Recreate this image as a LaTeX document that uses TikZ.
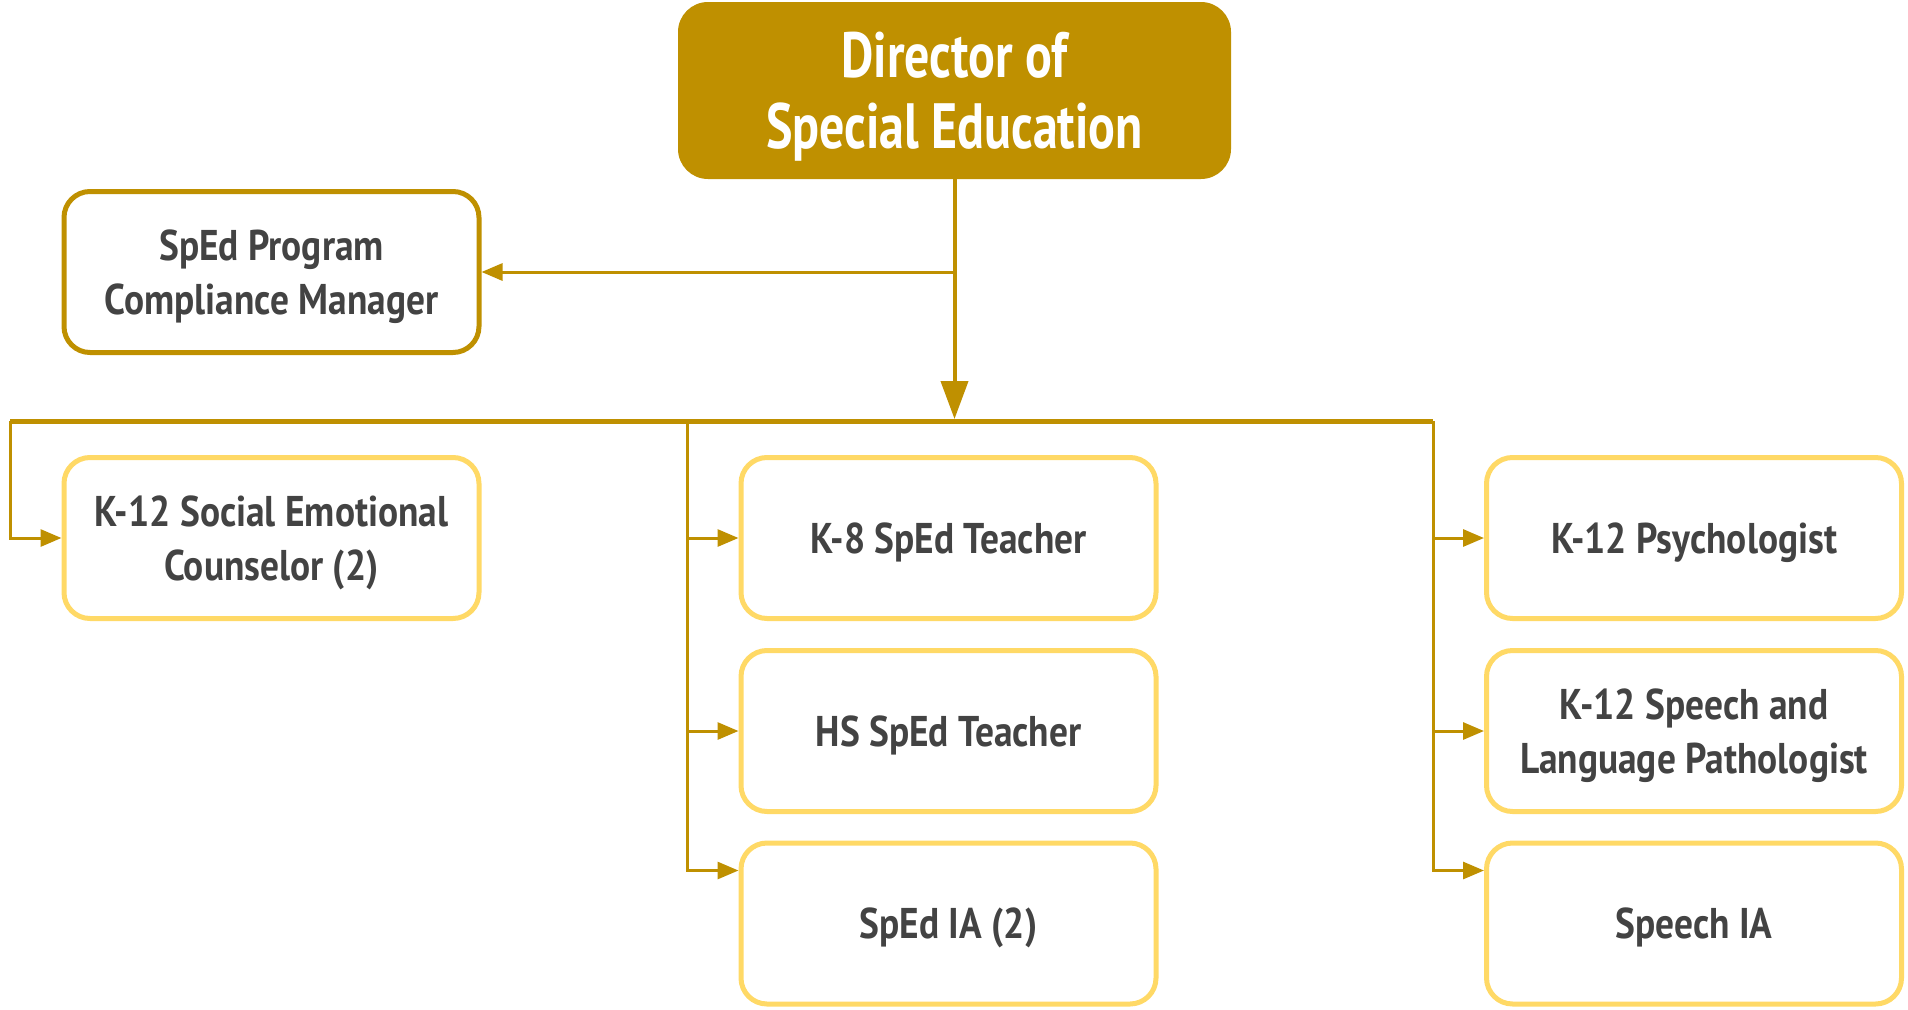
\documentclass[tikz,border=0pt]{standalone}
\usepackage{fontspec}
\setmainfont{PT Sans}
\newfontfamily\rolefont{PT Sans}[FakeStretch=0.87]
\newfontfamily\headfont{PT Sans}[FakeStretch=0.78]
\usepackage{tikz}
\usetikzlibrary{arrows.meta}
\definecolor{gold}{HTML}{BF9000}
\definecolor{paleyellow}{HTML}{FFD966}
\definecolor{inkgray}{HTML}{434343}

\begin{document}
\begin{tikzpicture}[x=1pt,y=-1pt,
  rolebox/.style={draw=paleyellow, line width=5pt, rounded corners=26pt, fill=white,
    minimum width=415pt, minimum height=161pt, align=center, text=inkgray, text depth=0pt,
    font=\rolefont\fontsize{43}{54}\selectfont\bfseries},
  link/.style={draw=gold, line width=3pt, -{Triangle[length=21pt,width=17pt]}}]
\useasboundingbox (0,0) rectangle (1908,1009);
\begin{scope}[shift={(0,0)}]
\node[fill=gold, rounded corners=30pt, minimum width=553pt, minimum height=177pt, align=center,
  text=white, text depth=0pt, font=\headfont\fontsize{64}{71}\selectfont\bfseries] (dir) at (954.5,90.5) {Director of\\Special Education};
\node[rolebox, draw=gold] (mgr) at (271.5,272) {SpEd Program\\Compliance Manager};
\node[rolebox] (sec) at (271.5,538) {K-12 Social Emotional\\Counselor (2)};
\node[rolebox] (k8) at (948.5,538) {K-8 SpEd Teacher};
\node[rolebox] (hs) at (948.5,731) {HS SpEd Teacher};
\node[rolebox] (ia) at (948.5,923.5) {SpEd IA (2)};
\node[rolebox] (psy) at (1694,538) {K-12 Psychologist};
\node[rolebox] (slp) at (1694,731) {K-12 Speech and\\Language Pathologist};
\node[rolebox] (sia) at (1694,923.5) {Speech IA};
\coordinate (bus) at (954.5,419);
\coordinate (busL) at (10,421);
\coordinate (busM) at (687,421);
\coordinate (busR) at (1433,421);
\coordinate (iaIn) at ([yshift=-30pt]ia.north west);
\coordinate (siaIn) at ([yshift=-30pt]sia.north west);
\draw[gold, line width=4pt, -{Triangle[length=38pt,width=27pt]}] (dir.south) -- (bus);
\draw[link] (dir.south |- mgr.east) -- (mgr.east);
\draw[gold, line width=5pt] (busL) -- (busR);
\draw[link] (busL) |- (sec.west);
\draw[link] (busM) |- (iaIn);
\draw[link] (busM |- k8.west) -- (k8.west);
\draw[link] (busM |- hs.west) -- (hs.west);
\draw[link] (busR) |- (siaIn);
\draw[link] (busR |- psy.west) -- (psy.west);
\draw[link] (busR |- slp.west) -- (slp.west);
\end{scope}
\end{tikzpicture}
\end{document}
